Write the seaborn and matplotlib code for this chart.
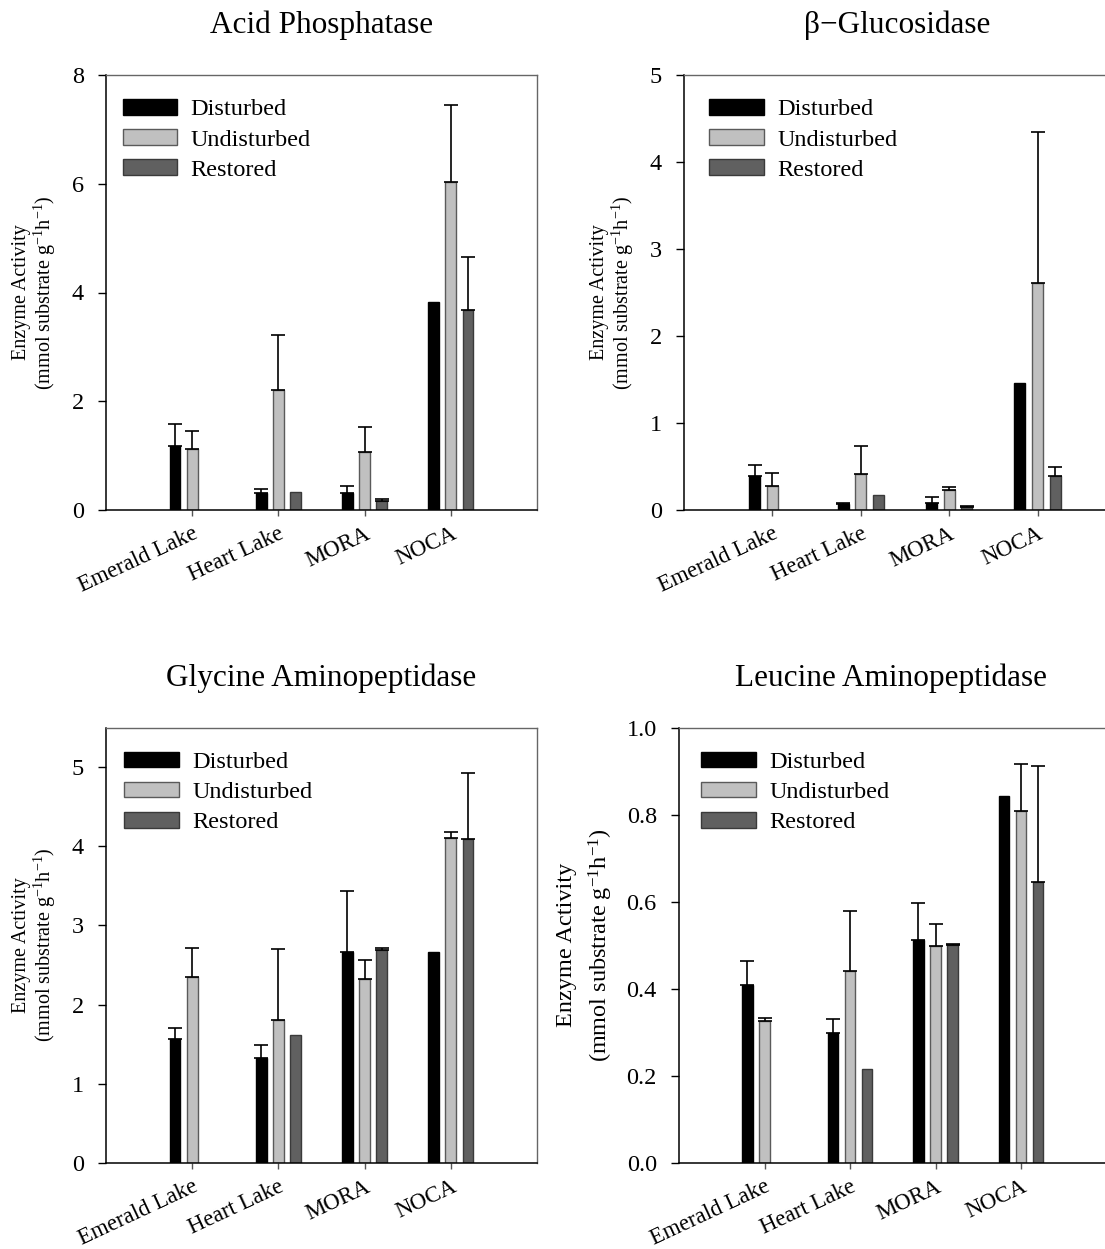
import numpy as np
import pandas as pd
import matplotlib
matplotlib.use("Agg")
import matplotlib.pyplot as plt
import matplotlib.transforms as mtransforms
import seaborn as sns

# ---------------- data ----------------
sites = ["Emerald Lake", "Heart Lake", "MORA", "NOCA"]
treatments = ["Disturbed", "Undisturbed", "Restored"]
nan = np.nan

# Acid Phosphatase
acid_disturbed = [1.18, 0.32, 0.32, 3.83]
acid_undisturbed = [1.13, 2.20, 1.07, 6.03]
acid_restored = [nan, 0.34, 0.17, 3.68]
acid_se_disturbed = [0.41, 0.07, 0.13, nan]
acid_se_undisturbed = [0.32, 1.01, 0.46, 1.42]
acid_se_restored = [nan, nan, 0.04, 0.98]

# beta-Glucosidase
gluc_disturbed = [0.39, 0.07, 0.086, 1.46]
gluc_undisturbed = [0.275, 0.41, 0.226, 2.61]
gluc_restored = [nan, 0.17, 0.03, 0.39]
gluc_se_disturbed = [0.13, 0.012, 0.058, nan]
gluc_se_undisturbed = [0.145, 0.32, 0.041, 1.73]
gluc_se_restored = [nan, nan, 0.02, 0.10]

# Glycine Aminopeptidase
gly_disturbed = [1.57, 1.32, 2.67, 2.66]
gly_undisturbed = [2.35, 1.81, 2.32, 4.10]
gly_restored = [nan, 1.62, 2.69, 4.09]
gly_se_disturbed = [0.14, 0.17, 0.76, nan]
gly_se_undisturbed = [0.36, 0.89, 0.24, 0.08]
gly_se_restored = [nan, nan, 0.02, 0.84]

# Leucine Aminopeptidase
leu_disturbed = [0.409, 0.299, 0.511, 0.842]
leu_undisturbed = [0.327, 0.440, 0.498, 0.809]
leu_restored = [nan, 0.215, 0.500, 0.646]
leu_se_disturbed = [0.055, 0.031, 0.087, nan]
leu_se_undisturbed = [0.006, 0.138, 0.051, 0.107]
leu_se_restored = [nan, nan, 0.002, 0.266]

titles = ["Acid Phosphatase", "\u03b2\u2212Glucosidase",
          "Glycine Aminopeptidase", "Leucine Aminopeptidase"]
yticks_list = [[0, 2, 4, 6, 8], [0, 1, 2, 3, 4, 5], [0, 1, 2, 3, 4, 5],
               [0.0, 0.2, 0.4, 0.6, 0.8, 1.0]]
ylims = [(0, 8), (0, 5), (0, 5.5), (0, 1.0)]

# ---------------- style ----------------
sns.set_style("ticks")
plt.rcParams["font.family"] = ["Liberation Serif", "DejaVu Serif"]
plt.rcParams["mathtext.fontset"] = "custom"
plt.rcParams["mathtext.rm"] = "Liberation Serif"
plt.rcParams["mathtext.it"] = "Liberation Serif:italic"
for key in ["text.color", "axes.labelcolor", "xtick.color", "ytick.color",
            "xtick.labelcolor", "ytick.labelcolor"]:
    plt.rcParams[key] = "black"

face_colors = ["#000000", "#c0c0c0", "#606060"]
edge_colors = ["#000000", "#5a5a5a", "#3a3a3a"]

W, H = 1105, 1249
fig = plt.figure(figsize=(W / 100, H / 100), dpi=100)

# axes rectangles in pixels: left, top, right, bottom
rects = [(106, 75, 537, 510), (684, 75, 1126, 510),
         (106, 727.5, 537, 1163), (679, 727.5, 1106.5, 1163)]
legend_dx = [16.5, 25, 18, 22]
title_x = [0.5, 0.482, 0.5, 0.497]

panels = [
    ([acid_disturbed, acid_undisturbed, acid_restored],
     [acid_se_disturbed, acid_se_undisturbed, acid_se_restored]),
    ([gluc_disturbed, gluc_undisturbed, gluc_restored],
     [gluc_se_disturbed, gluc_se_undisturbed, gluc_se_restored]),
    ([gly_disturbed, gly_undisturbed, gly_restored],
     [gly_se_disturbed, gly_se_undisturbed, gly_se_restored]),
    ([leu_disturbed, leu_undisturbed, leu_restored],
     [leu_se_disturbed, leu_se_undisturbed, leu_se_restored]),
]

for p, ((means, ses), (l, t, r, b)) in enumerate(zip(panels, rects)):
    ax = fig.add_axes([l / W, 1 - b / H, (r - l) / W, (b - t) / H])
    rows = []
    for ti, tr in enumerate(treatments):
        for si, s in enumerate(sites):
            v = means[ti][si]
            if not np.isnan(v):
                rows.append({"site": s, "treatment": tr, "value": v})
    df = pd.DataFrame(rows)
    sns.barplot(data=df, x="site", y="value", hue="treatment",
                order=sites, hue_order=treatments, palette=face_colors,
                width=0.6, gap=0.375, errorbar=None, linewidth=1.0,
                edgecolor="#000000", ax=ax, legend=True, zorder=2)

    # style bars per treatment & add upper error bars
    for patch in ax.patches:
        if not hasattr(patch, "get_height"):
            continue
        xc = patch.get_x() + patch.get_width() / 2
        si = int(round(xc))
        off = xc - si
        if abs(off) > 0.45 or patch.get_height() == 0:
            continue
        ti = int(round(off / 0.2)) + 1
        if ti < 0 or ti > 2:
            continue
        patch.set_edgecolor(edge_colors[ti])
        se = ses[ti][si]
        if not np.isnan(se):
            ax.errorbar(xc, patch.get_height(), yerr=[[0], [se]], fmt="none",
                        ecolor="black", elinewidth=1.2, capsize=4.8,
                        capthick=1.2, zorder=3)

    # legend
    leg = ax.get_legend()
    handles = list(leg.legend_handles)
    labels = [txt.get_text() for txt in leg.get_texts()]
    leg.remove()
    for hi, h in enumerate(handles):
        h.set_facecolor(face_colors[hi])
        h.set_edgecolor(edge_colors[hi] if hi else "#000000")
        h.set_linewidth(1.0)
    pw, ph = r - l, b - t
    ax.legend(handles, labels, loc="upper left",
              bbox_to_anchor=(legend_dx[p] / pw, 1 - 24 / ph),
              frameon=False, fontsize=17.5, handlelength=2.25,
              handleheight=0.62, handletextpad=0.55, labelspacing=0.36,
              borderpad=0, borderaxespad=0)

    ax.set_xlim(-1, 4)
    ax.set_ylim(*ylims[p])
    ax.set_yticks(yticks_list[p])
    if p == 3:
        ax.set_yticklabels([f"{v:.1f}" for v in yticks_list[p]])
    else:
        ax.set_yticklabels([f"{v:g}" for v in yticks_list[p]])
    ax.set_xlabel("")
    ax.set_xticks(range(len(sites)))
    ax.set_xticklabels(sites, rotation=25, ha="right", rotation_mode="anchor",
                       fontsize=16.5)
    offset = mtransforms.ScaledTranslation(4 / 100, 0, fig.dpi_scale_trans)
    for lab in ax.get_xticklabels():
        lab.set_transform(lab.get_transform() + offset)
    ax.tick_params(axis="y", labelsize=17.5, length=6, width=1.0,
                   direction="out", color="black", pad=10)
    ax.tick_params(axis="x", length=4.5, width=1.0, direction="out",
                   color="#555555", pad=5)

    for side in ["left", "bottom"]:
        ax.spines[side].set_color("black")
        ax.spines[side].set_linewidth(1.1)
    for side in ["top", "right"]:
        ax.spines[side].set_visible(True)
        ax.spines[side].set_color("#666666")
        ax.spines[side].set_linewidth(1.0)

    if p == 3:
        ax.set_ylabel("Enzyme Activity\n(mmol substrate g$^{\\mathregular{-1}}$"
                      "h$^{\\mathregular{-1}}$)", fontsize=17.5, labelpad=8,
                      linespacing=1.5)
    else:
        ax.set_ylabel("Enzyme Activity\n(mmol substrate g$^{\\mathregular{-1}}$"
                      "h$^{\\mathregular{-1}}$)", fontsize=14.5, labelpad=10,
                      linespacing=1.0)
    ax.set_title(titles[p], fontsize=22.5, pad=30, x=title_x[p])

fig.savefig("out.png", dpi=100)
